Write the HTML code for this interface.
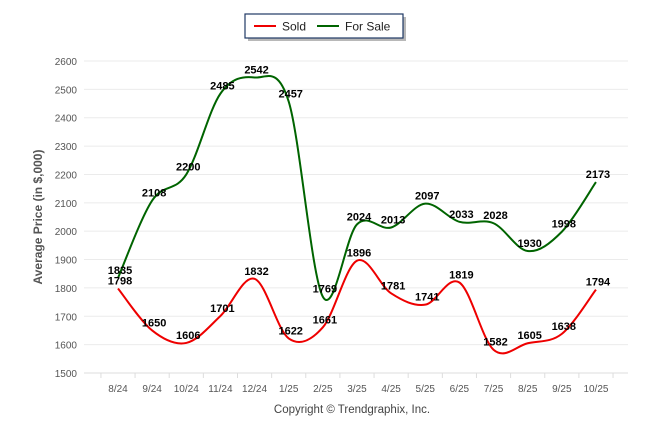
<!DOCTYPE html>
<html><head><meta charset="utf-8"><style>
body{margin:0;background:#fff;width:646px;height:434px;overflow:hidden;font-family:"Liberation Sans",sans-serif}
</style></head><body>
<svg width="646" height="434" id="c">
<g>
<rect x="246" y="15" width="158" height="24" fill="#333" opacity="0.35" transform="translate(2,2)"/>
<rect x="245" y="14" width="158" height="24" fill="#fff" stroke="#1f3864" stroke-width="1.2"/>
<g><line x1="254" y1="26" x2="276" y2="26" stroke="#e00" stroke-width="2"/><text x="282" y="30.5" font-size="12" fill="#222">Sold</text></g>
<g><line x1="317" y1="26" x2="339" y2="26" stroke="#006400" stroke-width="2"/><text x="345" y="30.5" font-size="12" fill="#222">For Sale</text></g>
</g>
<text transform="translate(42,217) rotate(-90)" text-anchor="middle" font-size="12" font-weight="bold" fill="#555">Average Price (in $,000)</text>
<text x="352" y="413" text-anchor="middle" font-size="11.5" fill="#444">Copyright © Trendgraphix, Inc.</text>
<g id="grid"></g><g id="lines"></g><g id="labels"></g>
</svg>
<script>
const categories=["8/24","9/24","10/24","11/24","12/24","1/25","2/25","3/25","4/25","5/25","6/25","7/25","8/25","9/25","10/25"];
const soldValues=[1798,1650,1606,1701,1832,1622,1661,1896,1781,1741,1819,1582,1605,1638,1794];
const forSaleValues=[1835,2108,2200,2485,2542,2457,1769,2024,2013,2097,2033,2028,1930,1998,2173];
const yTicks=[1500,1600,1700,1800,1900,2000,2100,2200,2300,2400,2500,2600];
const NS="http://www.w3.org/2000/svg";
const yMin=1500,yMax=2600,yTop=61,yBot=373;
const xL=84,xR=628,x0=118,dx=34.14;
const X=i=>x0+i*dx;
const Y=v=>yBot-(v-yMin)/(yMax-yMin)*(yBot-yTop);
function mk(t,a,p){const e=document.createElementNS(NS,t);for(const k in a)e.setAttribute(k,a[k]);p.appendChild(e);return e;}
const grid=document.getElementById('grid');
yTicks.forEach(v=>{
 const l=mk('line',{x1:xL,x2:xR,y1:Y(v),y2:Y(v),stroke:v==yMin?'#ddd':'#ebebeb','stroke-width':1},grid);
 
 
 const t=mk('text',{x:77,y:Y(v)+4,'text-anchor':'end','font-size':10,fill:'#555'},grid);t.textContent=v;
 
 
});
for(let i=0;i<=categories.length;i++){mk('line',{x1:X(i)-dx/2,x2:X(i)-dx/2,y1:yBot,y2:yBot+5,stroke:'#ddd'},grid);}
categories.forEach((c,i)=>{
 const t=mk('text',{x:X(i),y:392,'text-anchor':'middle','font-size':10,fill:'#555'},grid);t.textContent=c;
 
 
});
function path(vals){
 const p=vals.map((v,i)=>[X(i),Y(v)]);let d=`M${p[0][0]},${p[0][1]}`;const k=0.5/3;
 for(let i=0;i<p.length-1;i++){const a=p[Math.max(0,i-1)],b=p[i],c=p[i+1],e=p[Math.min(p.length-1,i+2)];
  d+=` C${b[0]+(c[0]-a[0])*k},${b[1]+(c[1]-a[1])*k} ${c[0]-(e[0]-b[0])*k},${c[1]-(e[1]-b[1])*k} ${c[0]},${c[1]}`;}
 return d;}
const lines=document.getElementById('lines'),labels=document.getElementById('labels');
[[forSaleValues,'#006400','for-sale'],[soldValues,'#e00','sold']].forEach(([vals,col,n])=>{
 const p=mk('path',{d:path(vals),fill:'none',stroke:col,'stroke-width':2},lines);
 
 
 vals.forEach((v,i)=>{
  const t=mk('text',{x:X(i)+2,y:Y(v)-4,'text-anchor':'middle','font-size':11,'font-weight':'bold',fill:'#000'},labels);t.textContent=v;
  
  
 });
});
</script>
</body></html>
